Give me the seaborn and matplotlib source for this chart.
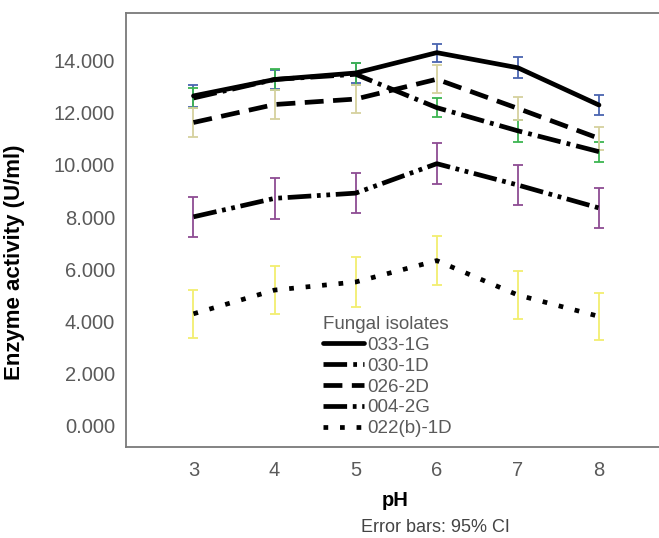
"""
Enzyme activity of fungal isolates across pH, with 95% CI error bars.
"""

import matplotlib
matplotlib.use("Agg")
import matplotlib.pyplot as plt
import seaborn as sns
import pandas as pd

# --- data ---
ph = [3, 4, 5, 6, 7, 8]
isolates = ["033-1G", "030-1D", "026-2D", "004-2G", "022(b)-1D"]

mean_033 = [12.65, 13.28, 13.53, 14.31, 13.73, 12.30]
mean_030 = [12.57, 13.28, 13.48, 12.20, 11.31, 10.51]
mean_026 = [11.63, 12.32, 12.53, 13.29, 12.17, 11.02]
mean_004 = [8.01, 8.72, 8.92, 10.05, 9.23, 8.35]
mean_022 = [4.29, 5.20, 5.51, 6.33, 5.01, 4.19]

ci_033 = [0.42, 0.38, 0.40, 0.35, 0.40, 0.38]
ci_030 = [0.38, 0.40, 0.42, 0.36, 0.42, 0.38]
ci_026 = [0.55, 0.56, 0.54, 0.54, 0.45, 0.45]
ci_004 = [0.77, 0.79, 0.78, 0.78, 0.77, 0.77]
ci_022 = [0.91, 0.93, 0.95, 0.94, 0.93, 0.91]

y_ticks = [0, 2, 4, 6, 8, 10, 12, 14]

# --- styles ---
means = dict(zip(isolates, [mean_033, mean_030, mean_026, mean_004, mean_022]))
cis = dict(zip(isolates, [ci_033, ci_030, ci_026, ci_004, ci_022]))
bar_colors = dict(zip(isolates, ["#4A64B0", "#3DB552", "#D6D19E", "#8E4C93", "#F2EE70"]))
dashes = {
    "033-1G": "",
    "030-1D": (5, 1.3, 0.8, 1.3),
    "026-2D": (4, 2),
    "004-2G": (5, 1.2, 0.8, 1.2, 0.8, 1.2),
    "022(b)-1D": (1, 2.5),
}

rows = []
for name in isolates:
    for p, v in zip(ph, means[name]):
        rows.append({"pH": p, "activity": v, "isolate": name})
df = pd.DataFrame(rows)

sns.set_style("white")
plt.rcParams["font.family"] = ["Liberation Sans", "DejaVu Sans"]

grey = "#5a5a5a"
fig = plt.figure(figsize=(6.59, 5.38), dpi=100)
ax = fig.add_axes([126 / 659, 1 - 446.7 / 538, 1 - 126 / 659, 433.4 / 538])

sns.lineplot(data=df, x="pH", y="activity", style="isolate", style_order=isolates,
             dashes=dashes, color="black", linewidth=3.4, legend=False, ax=ax,
             zorder=3)
line_handles = list(ax.lines[:len(isolates)])

for name in isolates:
    ax.errorbar(ph, means[name], yerr=cis[name], fmt="none", ecolor=bar_colors[name],
                elinewidth=1.3, capsize=3.5, capthick=1.3, zorder=2)

ax.set_xlim(2.168, 8.74)
ax.set_ylim(-0.81, 15.82)
ax.set_xticks(ph)
ax.set_yticks(y_ticks)
ax.set_yticklabels(["{:.3f}".format(t) for t in y_ticks])

for side in ["left", "bottom", "top"]:
    ax.spines[side].set_color("#7a7a7a")
    ax.spines[side].set_linewidth(1.3)
ax.spines["right"].set_visible(False)

ax.tick_params(axis="both", direction="out", length=7, width=1.2, color="#7a7a7a",
               labelcolor=grey, labelsize=14.5, pad=1)
ax.tick_params(axis="x", pad=3)

ax.set_xlabel("pH", fontsize=14.5, fontweight="bold", color="black")
ax.xaxis.set_label_coords(0.505, -0.103)
ax.set_ylabel("Enzyme activity (U/ml)", fontsize=16, fontweight="bold", color="black")
ax.yaxis.set_label_coords(-0.189, 0.426)

leg = ax.legend(line_handles, isolates, title="Fungal isolates", loc="upper left",
                bbox_to_anchor=(323 / 659, 1 - 316 / 538), bbox_transform=fig.transFigure,
                frameon=False, fontsize=13.5, title_fontsize=13.5, borderpad=0,
                borderaxespad=0, handlelength=2.2, handletextpad=0.15,
                labelspacing=0.2, alignment="left")
leg.get_title().set_color(grey)
for t in leg.get_texts():
    t.set_color(grey)

fig.text(435 / 659, 1 - 528 / 538, "Error bars: 95% CI", ha="center", va="center",
         fontsize=13, color="#444444")

fig.savefig("out.png", dpi=100)
plt.close(fig)
